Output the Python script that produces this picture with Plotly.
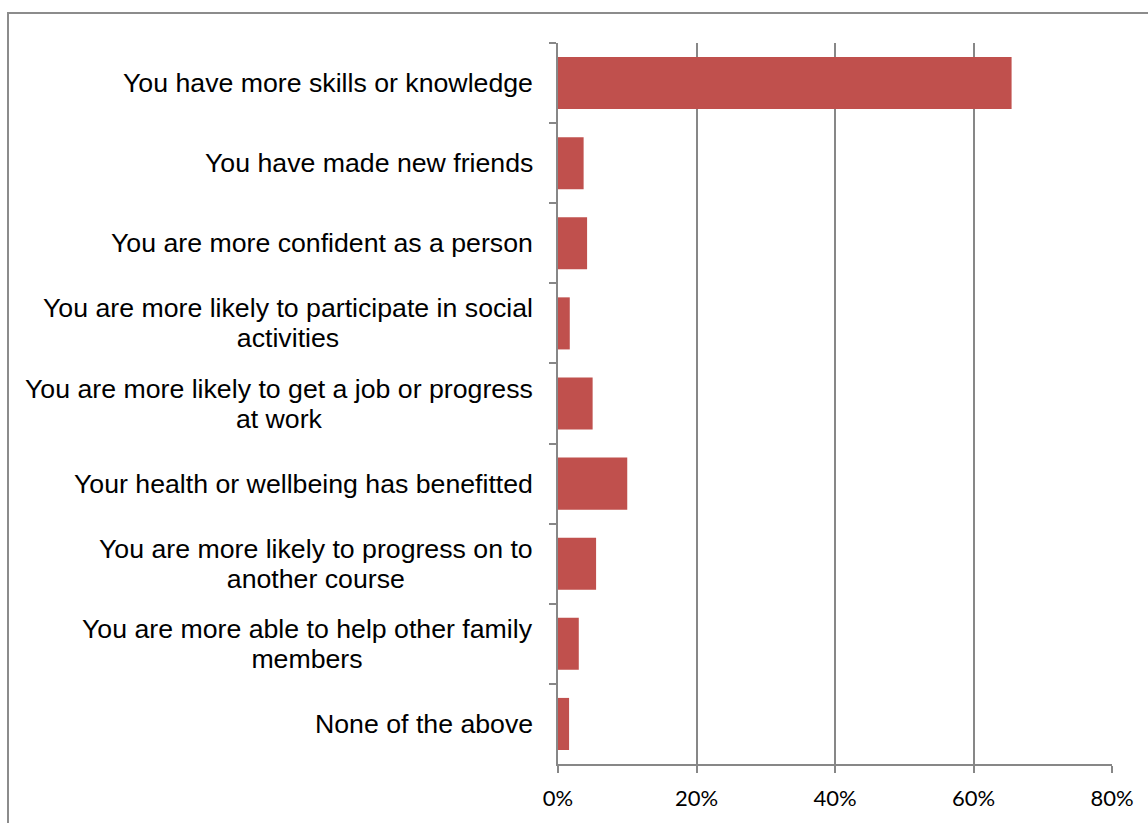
import plotly.graph_objects as go

# Survey responses (share of respondents)
categories = [
    "You have more skills or knowledge",
    "You have made new friends",
    "You are more confident as a person",
    "You are more likely to participate in social<br>activities",
    "You are more likely to get a job or progress<br>at work",
    "Your health or wellbeing has benefitted",
    "You are more likely to progress on to<br>another course",
    "You are more able to help other family<br>members",
    "None of the above",
]
values = [65.5, 3.7, 4.2, 1.7, 5.0, 10.0, 5.5, 3.0, 1.6]
x_ticks = [0, 20, 40, 60, 80]
x_tick_labels = ["0%", "20%", "40%", "60%", "80%"]

W, H = 1148, 823
L, R, T, B = 558, 36, 43, 59
pw, ph = W - L - R, H - T - B

GRID = "#878787"
BAR = "#C0504D"
LABEL_PX = 26.7

fig = go.Figure(
    go.Bar(
        y=categories,
        x=values,
        orientation="h",
        marker=dict(color=BAR, line=dict(width=0)),
        width=0.65,
        hoverinfo="x+y",
    )
)

# Category labels, centred line by line; the base font size sets a tighter
# line pitch while the inner span sets the glyph size.
annotations = []
for cat in categories:
    lines = cat.split("<br>")
    text = "<br>".join(f'<span style="font-size:{LABEL_PX}px">{ln}</span>' for ln in lines)
    annotations.append(
        dict(
            x=(535 - L) / pw,
            xref="paper",
            y=cat,
            yref="y",
            text=text,
            showarrow=False,
            xanchor="right",
            yanchor="middle",
            align="center",
            font=dict(family="Liberation Sans, Arial, sans-serif", size=23, color="#000000"),
        )
    )

# Outer chart frame
shapes = [
    dict(
        type="rect",
        xref="paper",
        yref="paper",
        x0=(8 - L) / pw,
        x1=(W + 5 - L) / pw,
        y0=-(H + 5 - (T + ph)) / ph,
        y1=1 + (T - 13) / ph,
        line=dict(color="#8C8C8C", width=2),
        fillcolor="rgba(0,0,0,0)",
        layer="below",
    )
]

fig.update_layout(
    width=W,
    height=H,
    margin=dict(l=L, r=R, t=T, b=B, pad=0),
    paper_bgcolor="white",
    plot_bgcolor="white",
    showlegend=False,
    bargap=0.35,
    annotations=annotations,
    shapes=shapes,
    xaxis=dict(
        range=[0, 80],
        tickvals=x_ticks,
        ticktext=x_tick_labels,
        showgrid=True,
        gridcolor=GRID,
        gridwidth=1.5,
        zeroline=False,
        showline=True,
        linecolor=GRID,
        linewidth=2,
        ticks="outside",
        ticklen=7,
        tickwidth=2,
        tickcolor=GRID,
        tickfont=dict(family="Lato, Carlito, sans-serif", size=22, color="#000000"),
        ticklabelstandoff=7,
        fixedrange=True,
    ),
    yaxis=dict(
        type="category",
        categoryorder="array",
        categoryarray=categories,
        autorange="reversed",
        showticklabels=False,
        showgrid=False,
        showline=True,
        linecolor=GRID,
        linewidth=2,
        ticks="outside",
        tickson="boundaries",
        ticklen=7,
        tickwidth=2,
        tickcolor=GRID,
        fixedrange=True,
    ),
)

fig.write_html("out.html")
